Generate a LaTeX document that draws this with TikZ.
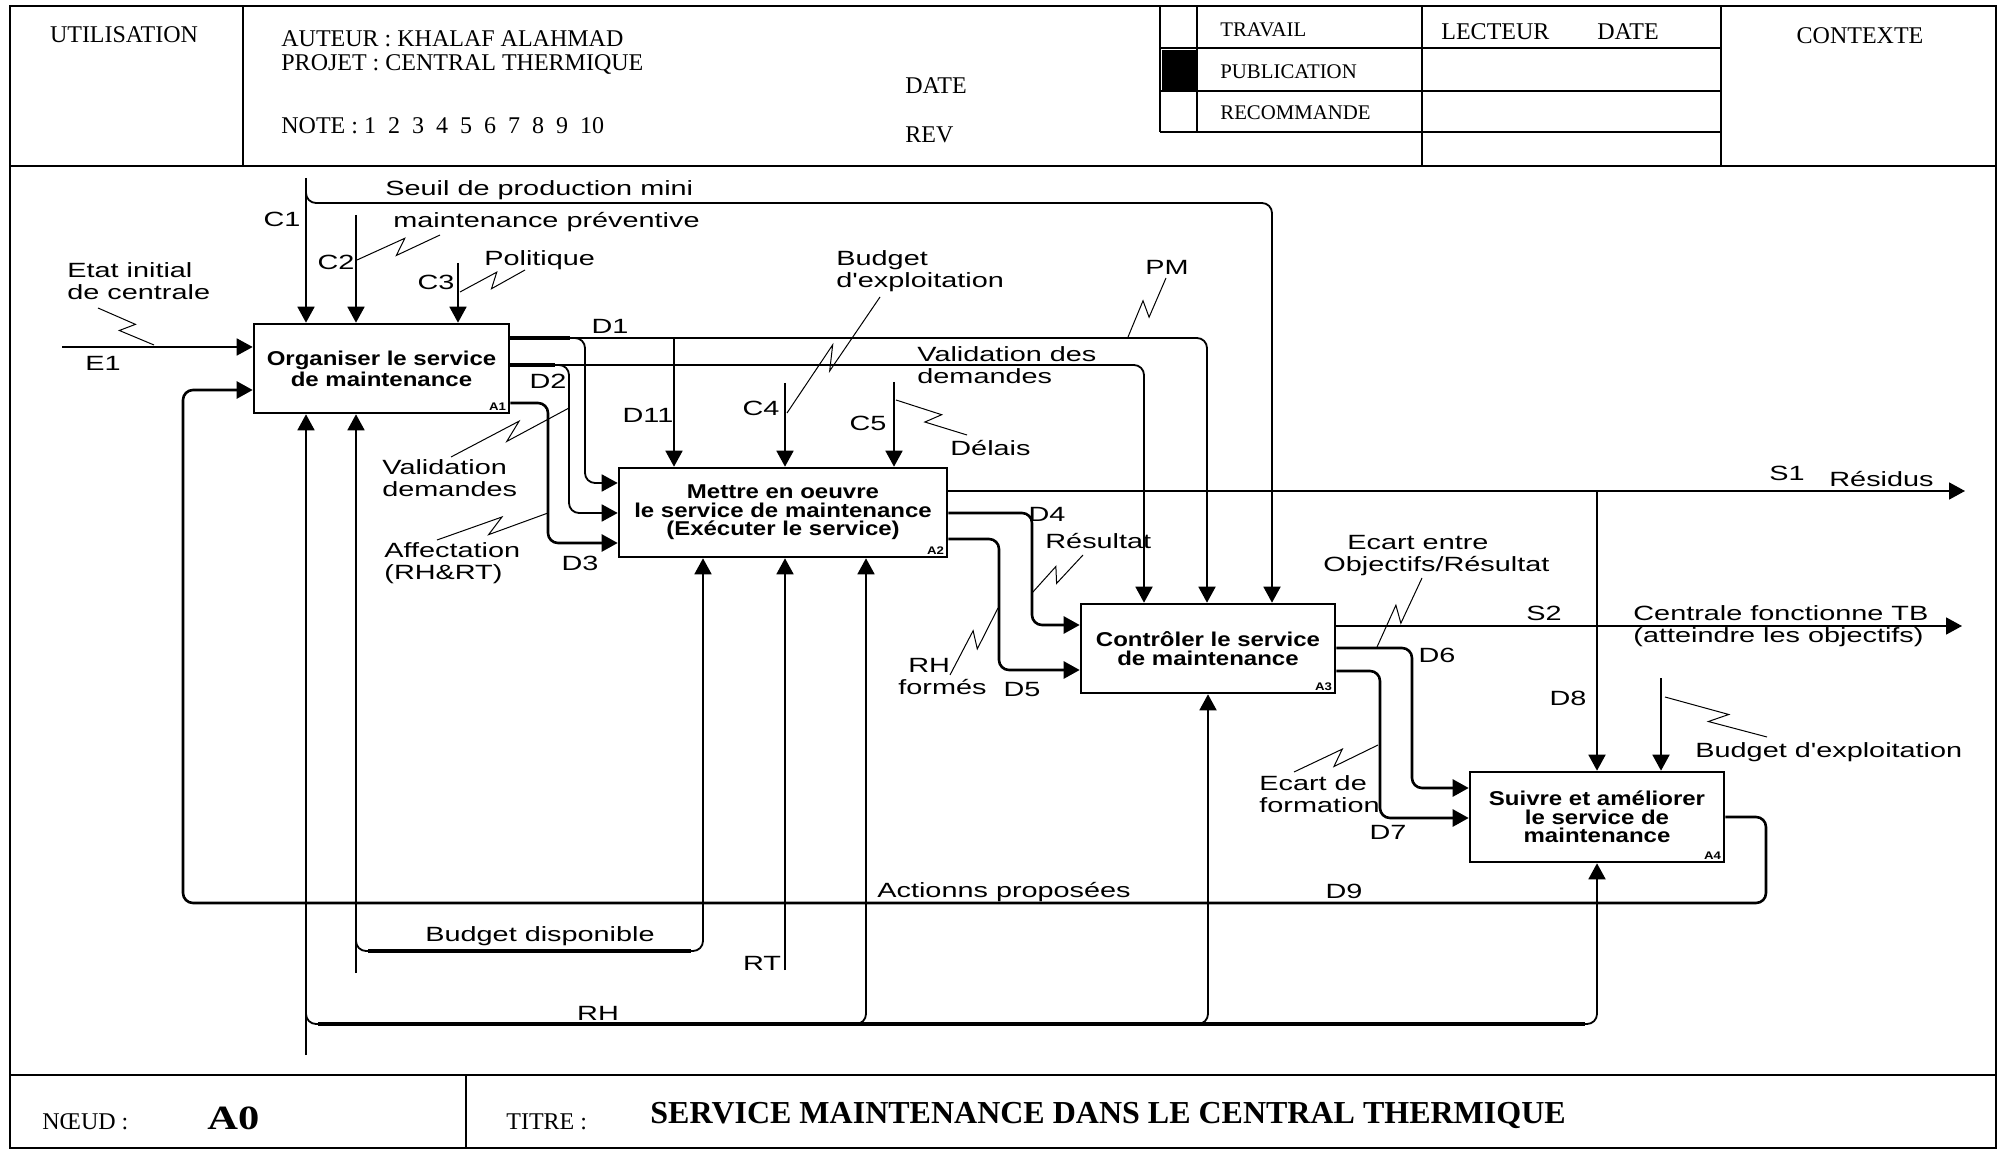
\documentclass[tikz,border=0pt]{standalone}
\usepackage{fontspec}
\setmainfont{Liberation Serif}
\newfontfamily\labf[FakeStretch=1.4]{Liberation Sans}
\newfontfamily\boxf[FakeStretch=1.2]{Liberation Sans}
\newfontfamily\serw[FakeStretch=1.25]{Liberation Serif}
\usetikzlibrary{arrows.meta,calc}
\newcommand\sqg[3]{%
  \coordinate (#1a) at (#2); \coordinate (#1b) at (#3);
  \coordinate (#1m) at ($(#1a)!0.6!(#1b)$);
  \coordinate (#1n) at ($(#1a)!0.45!(#1b)$);
  \draw[leader] (#1a) -- ($(#1m)!3.5pt!90:(#1b)$) -- ($(#1n)!3.5pt!90:(#1a)$) -- (#1b);}
\begin{document}
\begin{tikzpicture}[x=0.5pt,y=-0.5pt,
  lab/.style={font=\labf\fontsize{10.3}{11}\selectfont, inner sep=0pt, align=left},
  labc/.style={lab, align=center},
  hdr/.style={font=\fontsize{12}{14}\selectfont, inner sep=0pt, anchor=west},
  hdrs/.style={font=\fontsize{10.4}{12}\selectfont, inner sep=0pt, anchor=west},
  fn/.style={draw, line width=1.3pt, inner sep=0pt, align=center, font=\boxf\bfseries\fontsize{10}{9.3}\selectfont},
  tag/.style={font=\boxf\bfseries\fontsize{5.5}{6}\selectfont, inner sep=0pt, anchor=south east},
  conn/.style={line width=0.9pt, rounded corners=5pt},
  arr/.style={conn, -{Triangle[length=8pt,width=8.5pt]}},
  thk/.style={line width=1.6pt},
  leader/.style={line width=0.5pt},
  frm/.style={line width=1pt},
]
\useasboundingbox (0,0) rectangle (2002,1149);
% ---------- frame / header / footer
\draw[frm] (10,6) rectangle (1996,1148);
\draw[frm] (10,166) -- (1996,166);
\draw[frm] (243,6) -- (243,166);
\draw[frm] (1160,6) -- (1160,132);
\draw[frm] (1197,6) -- (1197,132);
\draw[frm] (1422,6) -- (1422,166);
\draw[frm] (1721,6) -- (1721,166);
\draw[frm] (1160,48) -- (1721,48);
\draw[frm] (1160,91) -- (1721,91);
\draw[frm] (1160,132) -- (1721,132);
\fill (1162,50) rectangle (1196,90);
\draw[frm] (10,1075) -- (1996,1075);
\draw[frm] (466,1075) -- (466,1148);

\node[hdr, anchor=center] (hU) at (124,35) {UTILISATION};
\node[hdr] (hA) at (281,39) {AUTEUR : KHALAF ALAHMAD};
\node[hdr] (hP) at (281,65) {PROJET : CENTRAL THERMIQUE};
\node[hdr] (hN) at (281,126) {NOTE : 1\hspace{0.5em}2\hspace{0.5em}3\hspace{0.5em}4\hspace{0.5em}5\hspace{0.5em}6\hspace{0.5em}7\hspace{0.5em}8\hspace{0.5em}9\hspace{0.5em}10};
\node[hdr] (hD) at (905,86) {DATE};
\node[hdr] (hR) at (905,135) {REV};
\node[hdrs] (hT) at (1220,30) {TRAVAIL};
\node[hdrs] (hPu) at (1220,72) {PUBLICATION};
\node[hdrs] (hRe) at (1220,113) {RECOMMANDE};
\node[hdr] (hL) at (1441,32) {LECTEUR};
\node[hdr] (hD2) at (1597,32) {DATE};
\node[hdr, anchor=center] (hC) at (1860,36) {CONTEXTE};

\node[hdr] (fN) at (42,1122) {NŒUD :};
\node[hdr, font=\serw\bfseries\fontsize{17}{18}\selectfont] (fA) at (207,1118) {A0};
\node[hdr] (fT) at (506,1122) {TITRE :};
\node[hdr, font=\bfseries\fontsize{16}{18}\selectfont] (fTi) at (650,1115) {SERVICE MAINTENANCE DANS LE CENTRAL THERMIQUE};

% ---------- function boxes
\node[fn, minimum width=127.5pt, minimum height=44.5pt] (A1) at (381.5,368.5) {Organiser le service\\de maintenance};
\node[fn, minimum width=164pt, minimum height=44.5pt] (A2) at (783,512.5) {Mettre en oeuvre\\le service de maintenance\\(Exécuter le service)};
\node[fn, minimum width=127pt, minimum height=44.5pt] (A3) at (1208,648.5) {Contrôler le service\\de maintenance};
\node[fn, minimum width=127pt, minimum height=45pt] (A4) at (1597,817) {Suivre et améliorer\\le service de\\maintenance};
\node[tag] (A1t) at ($(A1.south east)+(-4,-3)$) {A1};
\node[tag] (A2t) at ($(A2.south east)+(-4,-3)$) {A2};
\node[tag] (A3t) at ($(A3.south east)+(-4,-3)$) {A3};
\node[tag] (A4t) at ($(A4.south east)+(-4,-3)$) {A4};

% ---------- free ends and corners
\coordinate (c1s) at (306,178);
\coordinate (c2s) at (356,215);
\coordinate (c3s) at (458,263);
\coordinate (e1s) at (62,347);
\coordinate (sk) at (1272,203);
\coordinate (m1s) at (306,1055);
\coordinate (m2s) at (356,973);
\coordinate (rts) at (785,970);
\coordinate (c4s) at (785,383);
\coordinate (c5s) at (894,382);
\coordinate (bes) at (1661,678);
\coordinate (s1e) at (1965,491);
\coordinate (s2e) at (1962,626);
\coordinate (d9r) at (1766,903);
\coordinate (d9l) at (183,390);
\coordinate (bdk) at (356,951);
\coordinate (bdr) at (703,951);
\coordinate (rhk) at (306,1024);
\coordinate (rhr) at (1597,1024);
\coordinate (rh2) at (866,1024);
\coordinate (rh3) at (1208,1024);
\coordinate (d1k) at (1207,338);
\coordinate (d1b) at (585,338);
\coordinate (d1c) at (585,483);
\coordinate (d11) at (674,338);
\coordinate (d2k) at (1144,365);
\coordinate (d2b) at (569,365);
\coordinate (d2c) at (569,513);
\coordinate (d3b) at (548,403);
\coordinate (d3c) at (548,543);
\coordinate (d8) at (1597,491);
\coordinate (d4b) at (1032,513);
\coordinate (d4c) at (1032,625);
\coordinate (d5b) at (999,539);
\coordinate (d5c) at (999,670);
\coordinate (d6b) at (1412,648);
\coordinate (d6c) at (1412,788);
\coordinate (d7b) at (1380,671);
\coordinate (d7c) at (1380,818);

% ---------- connectors
\draw[arr] (c1s) -- (c1s |- A1.north);
\draw[arr] ($(c1s)+(0,8)$) -- ($(c1s)+(0,25)$) -- (sk) -- (sk |- A3.north);
\draw[arr] (c2s) -- (c2s |- A1.north);
\draw[arr] (c3s) -- (c3s |- A1.north);
\draw[arr] (e1s) -- (e1s -| A1.west);
\draw[arr, line width=1.3pt] (A4.east) -| (d9r) -| (d9l) -- (d9l -| A1.west);
\draw[arr] (m1s) -- (m1s |- A1.south);
\draw[arr] (m2s) -- (m2s |- A1.south);
\draw[arr] ($(bdk)+(0,-25)$) -- (bdk) -- (bdr) -- (bdr |- A2.south);
\draw[thk] ($(bdk)+(12,0)$) -- ($(bdr)+(-12,0)$);
\draw[arr] (rts) -- (rts |- A2.south);
\draw[arr] ($(rhk)+(0,-25)$) -- (rhk) -- (rhr) -- (rhr |- A4.south);
\draw[thk] ($(rhk)+(12,0)$) -- ($(rhr)+(-12,0)$);
\draw[arr] ($(rh2)+(-30,0)$) -- (rh2) -- (rh2 |- A2.south);
\draw[arr] ($(rh3)+(-30,0)$) -- (rh3) -- (rh3 |- A3.south);
\draw[arr] (c4s) -- (c4s |- A2.north);
\draw[arr] (c5s) -- (c5s |- A2.north);
\draw[arr] (d1k -| A1.east) -- (d1k) -- (d1k |- A3.north);
\draw[thk] (d1k -| A1.east) -- ++(60,0);
\draw[arr] ($(d1b)+(-30,0)$) -- (d1b) -- (d1c) -- (d1c -| A2.west);
\draw[arr] (d11) -- (d11 |- A2.north);
\draw[arr] (d2k -| A1.east) -- (d2k) -- (d2k |- A3.north);
\draw[thk] (d2k -| A1.east) -- ++(45,0);
\draw[arr] ($(d2b)+(-30,0)$) -- (d2b) -- (d2c) -- (d2c -| A2.west);
\draw[arr, line width=1.3pt] (d3b -| A1.east) -- (d3b) -- (d3c) -- (d3c -| A2.west);
\draw[arr] (s1e -| A2.east) -- (s1e);
\draw[arr] (d8) -- (d8 |- A4.north);
\draw[arr, line width=1.3pt] (d4b -| A2.east) -- (d4b) -- (d4c) -- (d4c -| A3.west);
\draw[arr, line width=1.3pt] (d5b -| A2.east) -- (d5b) -- (d5c) -- (d5c -| A3.west);
\draw[arr] (s2e -| A3.east) -- (s2e);
\draw[arr, line width=1.3pt] (d6b -| A3.east) -- (d6b) -- (d6c) -- (d6c -| A4.west);
\draw[arr, line width=1.3pt] (d7b -| A3.east) -- (d7b) -- (d7c) -- (d7c -| A4.west);
\draw[arr] (bes) -- (bes |- A4.north);

% ---------- labels
\node[lab, anchor=west] (lSeuil) at (385,190) {Seuil de production mini};
\node[lab] (lC1) at (282,219) {C1};
\node[lab, anchor=west] (lMp) at (393,222) {maintenance préventive};
\node[lab] (lC2) at (336,262) {C2};
\node[lab, anchor=west] (lPol) at (484,260) {Politique};
\node[lab] (lC3) at (436,282) {C3};
\node[lab, anchor=west] (lEtat) at (67,281) {Etat initial\\de centrale};
\node[lab] (lE1) at (103,363) {E1};
\node[lab] (lD1) at (610,326) {D1};
\node[lab] (lD2) at (548,381) {D2};
\node[lab] (lD11) at (648,415) {D11};
\node[lab, anchor=west] (lVal) at (382,478) {Validation\\demandes};
\node[lab, anchor=west] (lAff) at (384,563) {Affectation\\(RH\&RT)};
\node[lab] (lD3) at (580,563) {D3};
\node[lab, anchor=west] (lBud) at (836,271) {Budget\\d'exploitation};
\node[lab] (lPM) at (1167,267) {PM};
\node[lab, anchor=west] (lVald) at (917,365) {Validation des\\demandes};
\node[lab] (lC4) at (761,408) {C4};
\node[lab] (lC5) at (868,423) {C5};
\node[lab, anchor=west] (lDel) at (950,448) {Délais};
\node[lab] (lD4) at (1047,514) {D4};
\node[lab, anchor=west] (lRes) at (1045,541) {Résultat};
\node[lab, anchor=west] (lRHf) at (898,677) {\hspace*{5pt}RH\\formés};
\node[lab] (lD5) at (1022,690) {D5};
\node[lab, anchor=west] (lEcart) at (1323,556) {\hspace*{12pt}Ecart entre\\Objectifs/Résultat};
\node[lab] (lS1) at (1787,473) {S1};
\node[lab, anchor=west] (lResid) at (1829,479) {Résidus};
\node[lab] (lS2) at (1544,613) {S2};
\node[lab, anchor=west] (lCent) at (1633,626) {Centrale fonctionne TB\\(atteindre les objectifs)};
\node[lab] (lD6) at (1437,655) {D6};
\node[lab] (lD8) at (1568,698) {D8};
\node[lab, anchor=west] (lBex) at (1695,752) {Budget d'exploitation};
\node[lab, anchor=west] (lEcf) at (1259,794) {Ecart de\\formation};
\node[lab] (lD7) at (1388,832) {D7};
\node[lab, anchor=west] (lAct) at (877,892) {Actionns proposées};
\node[lab] (lD9) at (1344,891) {D9};
\node[lab, anchor=west] (lBdisp) at (425,936) {Budget disponible};
\node[lab] (lRT) at (762,963) {RT};
\node[lab] (lRH) at (598,1013) {RH};

% ---------- squiggle leaders
\sqg{qE1}{98,308}{154,345}
\sqg{qC2}{357,260}{440,235}
\sqg{qC3}{460,292}{525,270}
\sqg{qBud}{880,297}{787,413}
\sqg{qPM}{1166,278}{1128,337}
\sqg{qVal}{451,457}{569,408}
\sqg{qAff}{437,540}{548,513}
\sqg{qDel}{896,400}{967,435}
\sqg{qRes}{1083,555}{1032,593}
\sqg{qRHf}{950,675}{998,608}
\sqg{qEc}{1422,578}{1377,647}
\sqg{qBex}{1665,697}{1767,737}
\sqg{qEcf}{1294,772}{1378,745}
\end{tikzpicture}
\end{document}
